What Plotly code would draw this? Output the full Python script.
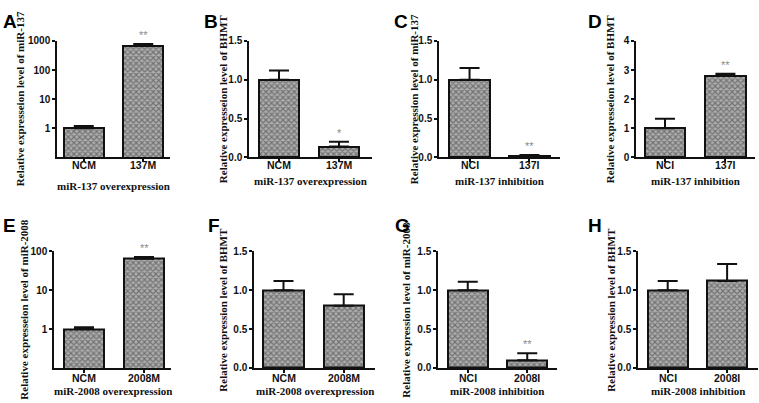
import math
import plotly.graph_objects as go

W, H = 759, 403

# ---------------- data ----------------
cats_A = ["NCM", "137M"]
vals_A = [1.0, 700.0]
err_A = [0.2, 90.0]
stars_A = ["", "**"]

cats_B = ["NCM", "137M"]
vals_B = [1.0, 0.14]
err_B = [0.12, 0.06]
stars_B = ["", "*"]

cats_C = ["NCI", "137I"]
vals_C = [1.0, 0.02]
err_C = [0.15, 0.01]
stars_C = ["", "**"]

cats_D = ["NCI", "137I"]
vals_D = [1.0, 2.8]
err_D = [0.33, 0.07]
stars_D = ["", "**"]

cats_E = ["NCM", "2008M"]
vals_E = [1.0, 65.0]
err_E = [0.12, 7.0]
stars_E = ["", "**"]

cats_F = ["NCM", "2008M"]
vals_F = [1.0, 0.8]
err_F = [0.12, 0.15]
stars_F = ["", ""]

cats_G = ["NCI", "2008I"]
vals_G = [1.0, 0.1]
err_G = [0.11, 0.09]
stars_G = ["", "**"]

cats_H = ["NCI", "2008I"]
vals_H = [1.0, 1.12]
err_H = [0.12, 0.22]
stars_H = ["", ""]

letters = ["A", "B", "C", "D", "E", "F", "G", "H"]
x_titles = ["miR-137 overexpression", "miR-137 overexpression",
            "miR-137 inhibition", "miR-137 inhibition",
            "miR-2008 overexpression", "miR-2008 overexpression",
            "miR-2008 inhibition", "miR-2008 inhibition"]
y_titles = ["Relative expresseion level of miR-137",
            "Relative expresseion level of BHMT",
            "Relative expression level of miR-137",
            "Relative expresseion level of BHMT",
            "Relative expresseion level of miR-2008",
            "Relative expression level of BHMT",
            "Relative expression level of miR-2008",
            "Relative expression level of BHMT"]

log_ticks_A = [1, 10, 100, 1000]
log_ticks_E = [1, 10, 100]
lin_ticks = [0.0, 0.5, 1.0, 1.5]
lin_ticks_D = [0, 1, 2, 3, 4]

panels = [
    dict(c=cats_A, v=vals_A, e=err_A, s=stars_A, log=True, ticks=log_ticks_A, yr=[-1, 3]),
    dict(c=cats_B, v=vals_B, e=err_B, s=stars_B, log=False, ticks=lin_ticks, yr=[0, 1.5]),
    dict(c=cats_C, v=vals_C, e=err_C, s=stars_C, log=False, ticks=lin_ticks, yr=[0, 1.5]),
    dict(c=cats_D, v=vals_D, e=err_D, s=stars_D, log=False, ticks=lin_ticks_D, yr=[0, 4]),
    dict(c=cats_E, v=vals_E, e=err_E, s=stars_E, log=True, ticks=log_ticks_E, yr=[-1, 2]),
    dict(c=cats_F, v=vals_F, e=err_F, s=stars_F, log=False, ticks=lin_ticks, yr=[0, 1.5]),
    dict(c=cats_G, v=vals_G, e=err_G, s=stars_G, log=False, ticks=lin_ticks, yr=[0, 1.5]),
    dict(c=cats_H, v=vals_H, e=err_H, s=stars_H, log=False, ticks=lin_ticks, yr=[0, 1.5]),
]

# ---------------- layout geometry (pixels) ----------------
x_dom_px = [(57, 170), (249, 372), (439, 560), (636, 755),
            (54, 171), (254, 375), (438, 557), (638, 758)]
y_dom_px = [(36, 156)] * 4 + [(253, 373)] * 4
x_ranges = [[-0.45, 1.45], [-0.5, 1.55], [-0.51, 1.51], [-0.48, 1.49],
            [-0.5, 1.45], [-0.49, 1.52], [-0.5, 1.5], [-0.5, 1.52]]
ytitle_x_px = [20, 223, 414, 610, 24, 223, 406, 611]
xtitle_y_px = [186, 180, 180, 180, 397, 397, 397, 397]
xtick_y_px = [164] * 4 + [383] * 4
letter_px = [(1, 3), (202, 3), (392, 3), (586, 3),
             (1, 213), (206, 213), (393, 213), (586, 213)]

SANS = "Liberation Sans, Arial"
SERIF = "Liberation Serif, Times New Roman"
TICKFONT = dict(family=SANS, size=10, color="#111", weight="bold")

fig = go.Figure()
annotations = []

for i, p in enumerate(panels):
    n = "" if i == 0 else str(i + 1)
    xa, ya = "x" + n, "y" + n
    fig.add_trace(go.Bar(
        x=[0, 1], y=p["v"], xaxis=xa, yaxis=ya, width=0.67,
        marker=dict(color="#adadad",
                    line=dict(color="#111", width=2),
                    pattern=dict(shape="x", size=4, solidity=0.5,
                                 fgcolor="#383838", fillmode="overlay")),
        error_y=dict(type="data", array=p["e"], arrayminus=[0, 0], symmetric=False,
                     color="#111", thickness=2, width=10),
        showlegend=False, hoverinfo="skip",
    ))
    x0, x1 = x_dom_px[i]
    y0, y1 = y_dom_px[i]
    xd = [x0 / W, x1 / W]
    yd = [1 - y1 / H, 1 - y0 / H]
    fig.layout["xaxis" + n] = dict(
        domain=xd, anchor=ya, range=x_ranges[i],
        tickmode="array", tickvals=[0, 1], ticktext=["", ""], showticklabels=False,
        showline=True, linecolor="#111", linewidth=1.5,
        ticks="outside", ticklen=3, tickwidth=1.5, tickcolor="#111",
        showgrid=False, zeroline=False, fixedrange=True,
    )
    yax = dict(
        domain=yd, anchor=xa,
        showline=True, linecolor="#111", linewidth=1.5,
        ticks="outside", ticklen=3, tickwidth=1.5, tickcolor="#111",
        tickfont=TICKFONT, showgrid=False, zeroline=False, fixedrange=True,
        tickmode="array", tickvals=p["ticks"],
    )
    if p["log"]:
        yax.update(type="log", range=p["yr"], ticktext=[str(t) for t in p["ticks"]])
    else:
        yax.update(range=p["yr"],
                   ticktext=[("%.1f" % t) if p["yr"][1] < 2 else str(t) for t in p["ticks"]])
    fig.layout["yaxis" + n] = yax

    for k in range(2):
        # category tick labels
        annotations.append(dict(
            x=k, y=1 - xtick_y_px[i] / H, xref=xa, yref="paper", text=p["c"][k],
            showarrow=False, xanchor="center", yanchor="middle",
            font=dict(family=SANS, size=10.5, color="#111", weight="bold"),
        ))
        # significance stars
        if p["s"][k]:
            top = p["v"][k] + p["e"][k]
            ypos = math.log10(top) if p["log"] else top
            annotations.append(dict(
                x=k, y=ypos, xref=xa, yref=ya, text=p["s"][k], showarrow=False,
                yanchor="bottom", yshift=1,
                font=dict(family=SANS, size=11, color="#8a8a8a"),
            ))
    # y title
    annotations.append(dict(
        x=ytitle_x_px[i] / W, y=1 - (y0 + y1) / 2 / H, xref="paper", yref="paper",
        text=y_titles[i], textangle=-90, showarrow=False,
        xanchor="center", yanchor="middle",
        font=dict(family=SERIF, size=11, color="#111", weight="bold"),
    ))
    # x title
    annotations.append(dict(
        x=(x0 + x1) / 2 / W, y=1 - xtitle_y_px[i] / H, xref="paper", yref="paper",
        text=x_titles[i], showarrow=False, xanchor="center", yanchor="middle",
        font=dict(family=SERIF, size=11, color="#111", weight="bold"),
    ))
    # panel letter
    lx, ly = letter_px[i]
    annotations.append(dict(
        x=lx / W, y=1 - ly / H, xref="paper", yref="paper", text=letters[i],
        showarrow=False, xanchor="left", yanchor="top",
        font=dict(family=SANS, size=19, color="#000", weight="bold"),
    ))

fig.update_layout(
    width=W, height=H, margin=dict(l=0, r=0, t=0, b=0),
    paper_bgcolor="white", plot_bgcolor="white",
    annotations=annotations, bargap=0,
)

fig.write_html("out.html", config={"displayModeBar": False},
               post_script="document.body.style.margin='0px';")
